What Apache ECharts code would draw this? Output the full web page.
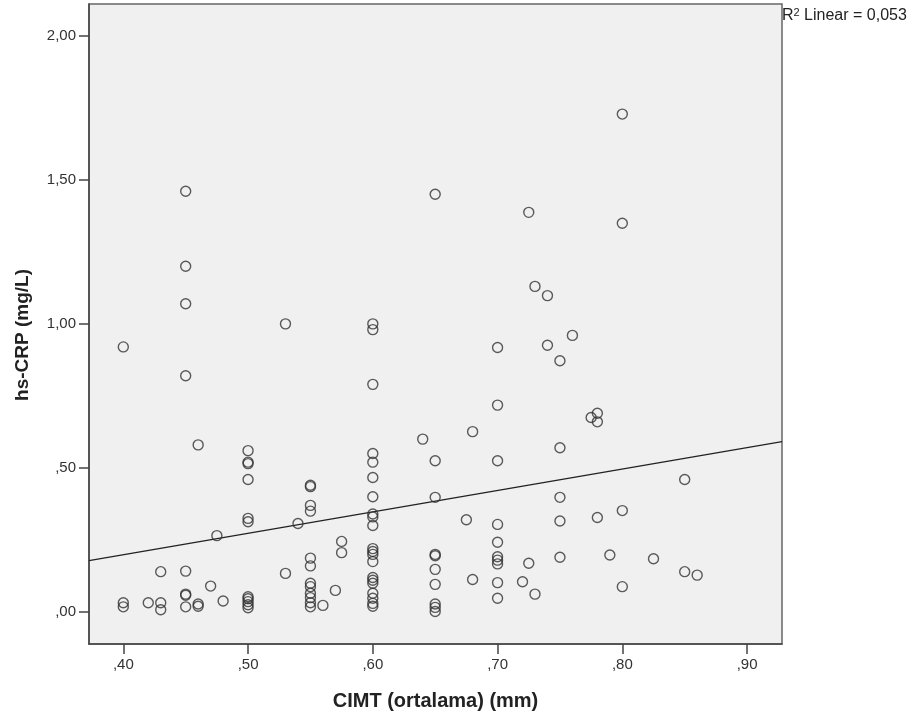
<!DOCTYPE html>
<html>
<head>
<meta charset="utf-8">
<title>CIMT vs hs-CRP</title>
<script src="https://cdn.jsdelivr.net/npm/echarts@6/dist/echarts.min.js"></script>
<style>
    html, body { margin: 0; padding: 0; background: #fff; }
    #chart { width: 915px; height: 722px; }
</style>
</head>
<body>
<div id="chart"></div>
<script>
    // CIMT (mm) per point
    const cimt = [
        0.40, 0.40, 0.40,
        0.42,
        0.43, 0.43, 0.43,
        0.45, 0.45, 0.45, 0.45, 0.45, 0.45, 0.45, 0.45,
        0.46, 0.46, 0.46,
        0.47, 0.475, 0.48,
        0.50, 0.50, 0.50, 0.50, 0.50, 0.50, 0.50, 0.50, 0.50, 0.50, 0.50,
        0.53, 0.53, 0.54,
        0.55, 0.55, 0.55, 0.55, 0.55, 0.55, 0.55, 0.55, 0.55, 0.55, 0.55, 0.55,
        0.56, 0.57, 0.575, 0.575,
        0.60, 0.60, 0.60, 0.60, 0.60, 0.60, 0.60, 0.60, 0.60, 0.60, 0.60,
        0.60, 0.60, 0.60, 0.60, 0.60, 0.60, 0.60, 0.60, 0.60, 0.60,
        0.64,
        0.65, 0.65, 0.65, 0.65, 0.65, 0.65, 0.65, 0.65, 0.65, 0.65,
        0.675, 0.68, 0.68,
        0.70, 0.70, 0.70, 0.70, 0.70, 0.70, 0.70, 0.70, 0.70, 0.70,
        0.72, 0.725, 0.725, 0.73, 0.73, 0.74, 0.74,
        0.75, 0.75, 0.75, 0.75, 0.75,
        0.76, 0.775, 0.78, 0.78, 0.78, 0.79,
        0.80, 0.80, 0.80, 0.80,
        0.825, 0.85, 0.85, 0.86
    ];
    // hs-CRP (mg/L) per point, same order
    const crp = [
        0.92, 0.032, 0.018,
        0.032,
        0.14, 0.032, 0.008,
        1.46, 1.20, 1.07, 0.82, 0.142, 0.062, 0.058, 0.018,
        0.58, 0.028, 0.02,
        0.09, 0.265, 0.038,
        0.56, 0.52, 0.515, 0.46, 0.325, 0.313, 0.053, 0.046, 0.036, 0.025, 0.015,
        1.00, 0.134, 0.307,
        0.44, 0.435, 0.37, 0.35, 0.187, 0.16, 0.10, 0.088, 0.065, 0.05, 0.032, 0.018,
        0.023, 0.075, 0.245, 0.206,
        1.00, 0.98, 0.79, 0.55, 0.52, 0.467, 0.40, 0.34, 0.33, 0.30, 0.22,
        0.21, 0.20, 0.175, 0.12, 0.11, 0.10, 0.065, 0.048, 0.03, 0.02,
        0.60,
        1.45, 0.525, 0.398, 0.20, 0.195, 0.148, 0.096, 0.028, 0.016, 0.002,
        0.32, 0.626, 0.113,
        0.918, 0.718, 0.525, 0.304, 0.242, 0.192, 0.18, 0.167, 0.102, 0.048,
        0.105, 1.387, 0.169, 1.13, 0.062, 1.098, 0.926,
        0.872, 0.57, 0.398, 0.316, 0.19,
        0.96, 0.675, 0.69, 0.66, 0.328, 0.198,
        1.728, 1.349, 0.352, 0.088,
        0.185, 0.46, 0.14, 0.128
    ];
    // fit line end points (linear, R2 = 0,053)
    const fitX = [0.3725, 0.928];
    const fitY = [0.178, 0.591];

    const xTicks = [0.4, 0.5, 0.6, 0.7, 0.8, 0.9];
    const yTicks = [0, 0.5, 1.0, 1.5, 2.0];

    // SPSS style: comma decimal, no leading zero
    const fmt = v => {
        const s = v.toFixed(2).replace('.', ',');
        return s.startsWith('0,') ? s.slice(1) : s;
    };

    const chart = echarts.init(document.getElementById('chart'));
    const font = '"Liberation Sans", Arial, sans-serif';

    const option = {
        animation: false,
        backgroundColor: '#fff',
        grid: {
            left: 89,
            top: 4,
            right: 133,
            bottom: 78,
            show: true,
            backgroundColor: '#f0f0f0',
            borderColor: '#666',
            borderWidth: 1.5
        },
        xAxis: {
            type: 'value',
            min: 0.3725,
            max: 0.928,
            name: 'CIMT (ortalama) (mm)',
            nameLocation: 'middle',
            nameGap: 47,
            nameTextStyle: { fontFamily: font, fontSize: 20, fontWeight: 'bold', color: '#222' },
            axisLine: { onZero: false, lineStyle: { color: '#444', width: 1.5 } },
            axisTick: { length: 10, customValues: xTicks, lineStyle: { color: '#444', width: 1.5 } },
            axisLabel: {
                customValues: xTicks,
                formatter: fmt,
                fontFamily: font,
                fontSize: 15,
                color: '#333',
                margin: 13
            },
            splitLine: { show: false }
        },
        yAxis: {
            type: 'value',
            min: -0.111,
            max: 2.11,
            name: 'hs-CRP (mg/L)',
            nameLocation: 'middle',
            nameGap: 57,
            nameTextStyle: {
                fontFamily: font,
                fontSize: 19,
                fontWeight: 'bold',
                color: '#222',
                padding: [0, 22, 0, 0]
            },
            axisLine: { show: true, onZero: false, lineStyle: { color: '#444', width: 1.5 } },
            axisTick: { show: true, length: 10, customValues: yTicks, lineStyle: { color: '#444', width: 1.5 } },
            axisLabel: {
                customValues: yTicks,
                formatter: fmt,
                fontFamily: font,
                fontSize: 15,
                color: '#333',
                margin: 13
            },
            splitLine: { show: false }
        },
        graphic: [
            {
                type: 'text',
                left: 782,
                top: 7,
                style: {
                    text: '{b|R}{s|2}{b| Linear = 0,053}',
                    rich: {
                        b: { fontFamily: font, fontSize: 16, fill: '#222', verticalAlign: 'bottom' },
                        s: { fontFamily: font, fontSize: 11, fill: '#222', verticalAlign: 'top', padding: [0, 0, 6, 0] }
                    }
                }
            }
        ],
        series: [
            {
                type: 'line',
                data: fitX.map((x, i) => [x, fitY[i]]),
                symbol: 'none',
                lineStyle: { color: '#222', width: 1.3 },
                z: 3
            },
            {
                type: 'scatter',
                data: cimt.map((x, i) => [x, crp[i]]),
                symbol: 'circle',
                symbolSize: 10,
                itemStyle: { color: 'transparent', borderColor: '#333', borderWidth: 1.4 },
                z: 4
            }
        ]
    };

    chart.setOption(option);
</script>
</body>
</html>
